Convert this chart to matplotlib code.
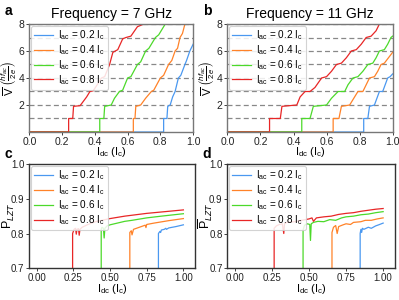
import numpy as np
import matplotlib.pyplot as plt

plt.rcParams['font.family'] = ['Liberation Sans', 'DejaVu Sans']
plt.rcParams['mathtext.fontset'] = 'custom'
plt.rcParams['mathtext.rm'] = 'Liberation Sans'
plt.rcParams['mathtext.it'] = 'Liberation Sans:italic'
plt.rcParams['mathtext.bf'] = 'Liberation Sans:bold'

# ---------- data ----------
iac_levels = ["0.2", "0.4", "0.6", "0.8"]
colors = ["#4a98f0", "#ff8228", "#4cd92a", "#e82626"]

# panel a, 7 GHz : V vs Idc
a_blue_x = [0.0, 0.82, 0.82, 0.84, 0.845, 0.86, 0.875, 0.89, 0.91, 0.925, 0.95, 0.96, 0.98, 1.0]
a_blue_y = [0, 0, 1, 1, 1.9, 2.0, 2.6, 3.0, 4.0, 4.2, 5.0, 5.3, 6.0, 6.5]
a_orange_x = [0.0, 0.635, 0.635, 0.645, 0.65, 0.68, 0.71, 0.745, 0.76, 0.80, 0.82, 0.85, 0.87, 0.89, 0.905, 0.92, 0.935, 0.95]
a_orange_y = [0, 0, 1, 1, 1.9, 2.0, 2.5, 3.0, 3.1, 4.0, 4.2, 5.0, 5.3, 6.0, 6.2, 7.0, 7.3, 8.0]
a_green_x = [0.0, 0.43, 0.43, 0.455, 0.46, 0.50, 0.52, 0.55, 0.57, 0.60, 0.62, 0.66, 0.68, 0.71, 0.73, 0.77, 0.79, 0.83]
a_green_y = [0, 0, 1, 1, 1.9, 2.0, 2.5, 3.0, 3.1, 4.0, 4.1, 5.0, 5.2, 6.0, 6.2, 7.0, 7.2, 8.0]
a_red_x = [0.0, 0.24, 0.24, 0.265, 0.27, 0.31, 0.35, 0.37, 0.39, 0.42, 0.44, 0.46, 0.49, 0.51, 0.54, 0.57, 0.59, 0.62, 0.66, 0.70]
a_red_y = [0, 0, 1, 1, 1.9, 1.95, 2.6, 3.0, 3.05, 3.6, 4.0, 4.1, 5.0, 5.9, 6.1, 6.9, 7.0, 7.1, 7.8, 8.0]

# panel b, 11 GHz
b_blue_x = [0.0, 0.825, 0.825, 0.85, 0.86, 0.89, 0.905, 0.92, 0.94, 0.955, 0.97, 0.985, 1.0]
b_blue_y = [0, 0, 1, 1, 1.9, 2.0, 2.5, 3.0, 3.0, 3.5, 4.0, 4.1, 4.3]
b_orange_x = [0.0, 0.64, 0.64, 0.675, 0.69, 0.74, 0.765, 0.79, 0.82, 0.84, 0.86, 0.89, 0.91, 0.93, 0.95, 0.975, 1.0]
b_orange_y = [0, 0, 1, 1, 1.9, 2.0, 2.5, 3.0, 3.0, 3.5, 4.0, 4.1, 4.5, 5.0, 5.1, 5.5, 5.9]
b_green_x = [0.0, 0.45, 0.45, 0.50, 0.52, 0.60, 0.63, 0.67, 0.71, 0.73, 0.76, 0.79, 0.82, 0.85, 0.88, 0.90, 0.92, 0.95, 0.97, 0.99, 1.0]
b_green_y = [0, 0, 1, 1, 1.9, 2.0, 2.5, 3.0, 3.0, 3.5, 4.0, 4.1, 4.5, 5.0, 5.1, 5.5, 6.0, 6.1, 6.5, 7.0, 7.1]
b_red_x = [0.0, 0.255, 0.255, 0.32, 0.33, 0.42, 0.44, 0.47, 0.50, 0.53, 0.57, 0.60, 0.63, 0.66, 0.69, 0.72, 0.75, 0.78, 0.81, 0.84, 0.87, 0.90, 0.92, 0.96, 0.97]
b_red_y = [0, 0, 1, 1, 1.9, 2.0, 2.6, 3.0, 3.0, 3.3, 4.0, 4.1, 4.5, 5.0, 5.1, 5.5, 6.0, 6.1, 6.5, 7.0, 7.1, 7.5, 8.0, 8.0, 8.3]

# panel c, 7 GHz : P_LZT vs Idc
c_blue_x = [0.83, 0.83, 0.84, 0.845, 0.85, 0.87, 0.88, 0.885, 0.9, 0.95, 1.0]
c_blue_y = [0.5, 0.800, 0.806, 0.803, 0.810, 0.812, 0.815, 0.812, 0.816, 0.820, 0.825]
c_orange_x = [0.635, 0.635, 0.645, 0.65, 0.66, 0.70, 0.74, 0.745, 0.75, 0.80, 0.90, 1.0]
c_orange_y = [0.5, 0.803, 0.808, 0.796, 0.812, 0.818, 0.824, 0.817, 0.826, 0.830, 0.837, 0.843]
c_green_x = [0.44, 0.44, 0.445, 0.455, 0.46, 0.465, 0.48, 0.50, 0.55, 0.60, 0.65, 0.75, 0.85, 1.0]
c_green_y = [0.5, 0.812, 0.818, 0.815, 0.787, 0.815, 0.822, 0.825, 0.830, 0.835, 0.838, 0.845, 0.850, 0.857]
c_red_x = [0.245, 0.245, 0.255, 0.265, 0.27, 0.275, 0.285, 0.29, 0.295, 0.31, 0.35, 0.40, 0.50, 0.60, 0.75, 0.90, 1.0]
c_red_y = [0.5, 0.800, 0.812, 0.815, 0.798, 0.812, 0.814, 0.795, 0.812, 0.818, 0.826, 0.834, 0.843, 0.850, 0.858, 0.864, 0.868]

# panel d, 11 GHz
d_blue_x = [0.845, 0.845, 0.85, 0.855, 0.86, 0.87, 0.9, 0.92, 0.95, 0.97, 1.0]
d_blue_y = [0.5, 0.800, 0.812, 0.803, 0.815, 0.812, 0.818, 0.815, 0.822, 0.825, 0.830]
d_orange_x = [0.655, 0.655, 0.665, 0.68, 0.69, 0.70, 0.73, 0.75, 0.78, 0.80, 0.85, 0.88, 0.92, 0.96, 1.0]
d_orange_y = [0.5, 0.803, 0.818, 0.823, 0.800, 0.820, 0.825, 0.828, 0.826, 0.832, 0.834, 0.838, 0.838, 0.842, 0.845]
d_green_x = [0.46, 0.46, 0.47, 0.49, 0.505, 0.51, 0.515, 0.53, 0.56, 0.60, 0.64, 0.68, 0.72, 0.75, 0.80, 0.85, 0.90, 0.95, 1.0]
d_green_y = [0.5, 0.810, 0.824, 0.828, 0.826, 0.780, 0.828, 0.832, 0.835, 0.834, 0.840, 0.838, 0.845, 0.848, 0.850, 0.854, 0.856, 0.860, 0.863]
d_red_x = [0.265, 0.265, 0.28, 0.30, 0.32, 0.33, 0.335, 0.35, 0.40, 0.45, 0.50, 0.52, 0.53, 0.55, 0.60, 0.65, 0.70, 0.75, 0.80, 0.85, 0.90, 0.95, 1.0]
d_red_y = [0.5, 0.815, 0.822, 0.826, 0.828, 0.800, 0.828, 0.832, 0.834, 0.838, 0.842, 0.845, 0.835, 0.845, 0.848, 0.850, 0.855, 0.858, 0.860, 0.864, 0.867, 0.870, 0.872]

panel_v = {
    "a": [(a_blue_x, a_blue_y), (a_orange_x, a_orange_y), (a_green_x, a_green_y), (a_red_x, a_red_y)],
    "b": [(b_blue_x, b_blue_y), (b_orange_x, b_orange_y), (b_green_x, b_green_y), (b_red_x, b_red_y)],
}
panel_p = {
    "c": [(c_blue_x, c_blue_y), (c_orange_x, c_orange_y), (c_green_x, c_green_y), (c_red_x, c_red_y)],
    "d": [(d_blue_x, d_blue_y), (d_orange_x, d_orange_y), (d_green_x, d_green_y), (d_red_x, d_red_y)],
}
titles = {"a": "Frequency = 7 GHz", "b": "Frequency = 11 GHz"}

xlabel = r"I$_{\mathrm{dc}}$ (I$_{\mathrm{c}}$)"


def _label(lvl):
    return r"I$_{\mathrm{ac}}$ = " + lvl + r" I$_{\mathrm{c}}$"


def _legend(ax):
    leg = ax.legend(loc="upper left", fontsize=7.2, handlelength=1.9, handletextpad=0.5,
                    labelspacing=0.1, borderpad=0.3, borderaxespad=0.15,
                    framealpha=0.85, fancybox=True)
    leg.get_frame().set_edgecolor("#cccccc")
    leg.get_frame().set_linewidth(0.8)


def _style(ax, spine_col, tick_fs):
    for s in ax.spines.values():
        s.set_color(spine_col)
        s.set_linewidth(1.0)
    ax.tick_params(length=2, width=0.6, labelsize=tick_fs, pad=1.5, colors="#222222")


fig = plt.figure(figsize=(3.99, 3.0), dpi=100)
pos = {
    "a": [0.0735, 0.56, 0.4105, 0.36],
    "b": [0.570, 0.56, 0.414, 0.36],
    "c": [0.0735, 0.106, 0.4155, 0.347],
    "d": [0.570, 0.106, 0.42, 0.347],
}

for key, curves in panel_v.items():
    ax = fig.add_axes(pos[key])
    for lvl in range(1, 9):
        ax.axhline(lvl, color="#888888", ls=(0, (4, 2.5)), lw=0.9, zorder=1)
    for (x, y), c, lvl in zip(curves, colors, iac_levels):
        ax.plot(x, y, color=c, lw=0.9, label=_label(lvl), zorder=2)
    ax.set_xlim(0, 1)
    ax.set_ylim(0, 8)
    ax.set_xticks([0.0, 0.2, 0.4, 0.6, 0.8, 1.0])
    ax.set_xticklabels(["0.0", "0.2", "0.4", "0.6", "0.8", "1.0"])
    ax.set_yticks([2, 4, 6, 8])
    _style(ax, "#777777", 7.5)
    ax.set_title(titles[key], fontsize=10, pad=4)
    ax.set_xlabel(xlabel, fontsize=8, labelpad=-1)
    ax.set_ylabel(r"$\overline{\mathrm{V}}\ \left(\frac{hf_{ac}}{2e}\right)$", fontsize=8)
    ax.yaxis.set_label_coords(-0.065, 0.5)
    _legend(ax)

for key, curves in panel_p.items():
    ax = fig.add_axes(pos[key])
    for (x, y), c, lvl in zip(curves, colors, iac_levels):
        ax.plot(x, y, color=c, lw=0.9, label=_label(lvl))
    ax.set_xlim(-0.05, 1.08)
    ax.set_ylim(0.7, 1.0)
    ax.set_xticks([0.0, 0.25, 0.5, 0.75, 1.0])
    ax.set_xticklabels(["0.00", "0.25", "0.50", "0.75", "1.00"])
    ax.set_yticks([0.7, 0.8, 0.9, 1.0])
    ax.set_yticklabels(["0.7", "0.8", "0.9", "1.0"])
    _style(ax, "#333333", 7)
    ax.set_xlabel(xlabel, fontsize=8, labelpad=-1)
    ax.set_ylabel(r"$\overline{\mathrm{P}}_{LZT}$", fontsize=9)
    ax.yaxis.set_label_coords(-0.075, 0.5)
    _legend(ax)

# panel letters
for key, (x, y) in {"a": (0.012, 0.963), "b": (0.508, 0.963),
                    "c": (0.012, 0.487), "d": (0.508, 0.487)}.items():
    fig.text(x, y, key, fontsize=10, fontweight="bold", va="center")

fig.savefig("out.png", dpi=100)
